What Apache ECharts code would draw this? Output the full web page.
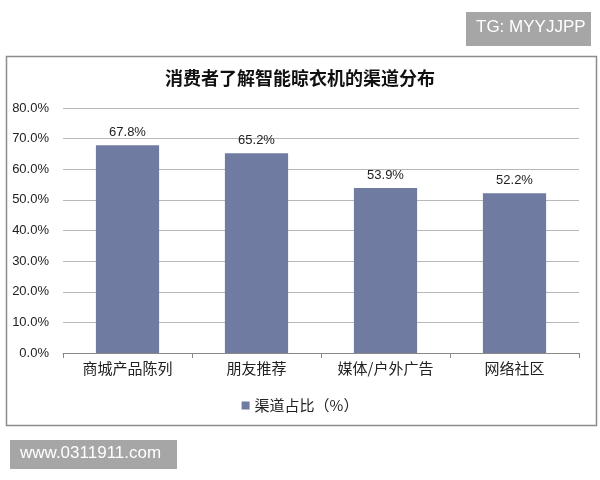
<!DOCTYPE html>
<html><head><meta charset="utf-8">
<script src="https://cdn.jsdelivr.net/npm/echarts@6/dist/echarts.min.js"></script>
<style>html,body{margin:0;padding:0;background:#fff}#c{width:600px;height:480px}</style>
</head><body><div id="c"></div>
<script>
const categories = ['商城产品陈列', '朋友推荐', '媒体/户外广告', '网络社区'];
const values = [67.8, 65.2, 53.9, 52.2];
const seriesName = '渠道占比（%）';
const titleText = '消费者了解智能晾衣机的渠道分布';

const chart = echarts.init(document.getElementById('c'));
const font = '"Noto Sans CJK SC", "Liberation Sans", sans-serif';
chart.setOption({
  backgroundColor: '#fff',
  animation: false,
  textStyle: { fontFamily: font },
  title: {
    text: titleText, left: 'center', top: 64,
    textStyle: { fontSize: 18, fontWeight: 'bold', color: '#111', fontFamily: font }
  },
  graphic: [
    { type: 'rect', left: 4, top: 54, shape: { width: 590, height: 369 }, style: { fill: 'none', stroke: '#8c8c8c', lineWidth: 1.5 }, z: -1 },
    { type: 'rect', left: 466, top: 12, shape: { width: 125, height: 34 }, style: { fill: '#a6a6a6' } },
    { type: 'text', left: 476, top: 19, style: { text: 'TG: MYYJJPP', fill: '#fff', font: '17px "Liberation Sans", sans-serif' } },
    { type: 'rect', left: 10, top: 440, shape: { width: 167, height: 29 }, style: { fill: '#a6a6a6' } },
    { type: 'text', left: 20, top: 445, style: { text: 'www.0311911.com', fill: '#fff', font: '17px "Liberation Sans", sans-serif' } }
  ],
  legend: {
    top: 393, left: 'center', itemWidth: 8, itemHeight: 8, itemGap: 3,
    icon: 'rect',
    textStyle: { fontSize: 15, color: '#222', fontFamily: font },
    data: [seriesName]
  },
  grid: { left: 63, right: 21, top: 108, bottom: 127, containLabel: false },
  xAxis: {
    type: 'category', data: categories,
    axisLine: { lineStyle: { color: '#888' } },
    axisTick: { show: true, lineStyle: { color: '#888' }, length: 5 },
    axisLabel: { fontSize: 15, color: '#222', margin: 8, fontFamily: font }
  },
  yAxis: {
    type: 'value', min: 0, max: 80, interval: 10,
    axisLine: { show: false }, axisTick: { show: false },
    splitLine: { lineStyle: { color: '#b8b8b8' } },
    axisLabel: { fontSize: 13, color: '#222', margin: 14, formatter: v => v.toFixed(1) + '%', fontFamily: '"Liberation Sans", sans-serif' }
  },
  series: [{
    name: seriesName, type: 'bar', data: values, barWidth: '49%',
    itemStyle: { color: '#6f7ba1' },
    label: { show: true, position: 'top', distance: 6, fontSize: 13, color: '#222', formatter: p => p.value.toFixed(1) + '%', fontFamily: '"Liberation Sans", sans-serif' }
  }]
});
</script></body></html>
